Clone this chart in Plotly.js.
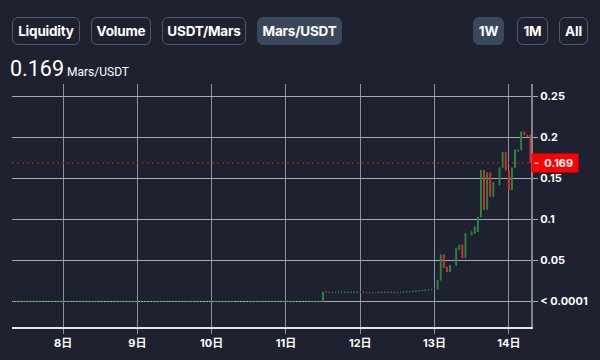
<!DOCTYPE html>
<html>
<head>
<meta charset="utf-8">
<script src="https://cdn.plot.ly/plotly-3.0.1.min.js"></script>
<style>
  html, body { margin:0; padding:0; background:#1e2130; }
  #wrap { position:relative; width:600px; height:360px; overflow:hidden; background:#1e2130; }
  #chart { position:absolute; left:0; top:0; width:600px; height:360px; }
  .btn { position:absolute; top:17px; height:28px; box-sizing:border-box; border:1px solid #4e596b;
         border-radius:6px; color:#ffffff; font-family:Inter, Roboto, sans-serif; font-weight:700; font-size:13.5px;
         display:flex; align-items:center; justify-content:center; letter-spacing:-0.2px; }
  .btn.on { background:#3b475a; border-color:#3b475a; }
  #price { position:absolute; left:10px; top:56px; color:#fff; font-family:Roboto, sans-serif; white-space:nowrap; }
  #price .big { font-size:21.5px; }
  #price .small { font-size:12px; margin-left:3px; }
</style>
</head>
<body>
<div id="wrap">
  <div id="chart"></div>
  <div class="btn" style="left:12px;width:68px;">Liquidity</div>
  <div class="btn" style="left:91px;width:60px;">Volume</div>
  <div class="btn" style="left:162px;width:84px;">USDT/Mars</div>
  <div class="btn on" style="left:257px;width:85px;">Mars/USDT</div>
  <div class="btn on" style="left:473px;width:31px;">1W</div>
  <div class="btn" style="left:517px;width:31px;">1M</div>
  <div class="btn" style="left:559px;width:29px;">All</div>
  <div id="price"><span class="big">0.169</span><span class="small">Mars/USDT</span></div>
</div>
<script>
// ---- data (hourly candles, starting 2021-05-07 07:00) ----
const startTime = Date.UTC(2021, 4, 7, 7, 0, 0);

const openPrices = [
  0.00005,0.00005,0.00005,0.00005,0.00005,0.00005,0.00005,0.00005,0.00005,0.00005,
  0.00005,0.00005,0.00005,0.00005,0.00005,0.00005,0.00005,0.00005,0.00005,0.00005,
  0.00005,0.00005,0.00005,0.00005,0.00005,0.00005,0.00005,0.00005,0.00005,0.00005,
  0.00005,0.00005,0.00005,0.00005,0.00005,0.00005,0.00005,0.00005,0.00005,0.00005,
  0.00005,0.00005,0.00005,0.00005,0.00005,0.00005,0.00005,0.00005,0.00005,0.00005,
  0.00005,0.00005,0.00005,0.00005,0.00005,0.00005,0.00005,0.00005,0.00005,0.00005,
  0.00005,0.00005,0.00005,0.00005,0.00005,0.00005,0.00005,0.00005,0.00005,0.00005,
  0.00005,0.00005,0.00005,0.00005,0.00005,0.00005,0.00005,0.00005,0.00005,0.00005,
  0.00005,0.00005,0.00005,0.00005,0.00005,0.00005,0.00005,0.00005,0.00005,0.00005,
  0.00005,0.00005,0.00005,0.00005,0.00005,0.00005,0.00005,0.00005,0.00005,0.00005,
  0.00005,
  0.00005,0.0116,0.0116,0.0110,0.0111,0.0112,0.0112,0.0113,0.0113,0.0113,
  0.0114,0.0114,0.0114,0.0115,0.0115,0.0109,0.0107,0.0109,0.0110,0.0111,
  0.0112,0.0112,0.0113,0.0114,0.0108,0.0110,0.0112,0.0115,0.0118,0.0121,
  0.0124,0.0128,0.0131,0.0135,0.0139,0.0143,
  0.0147,0.0149,0.026,0.057,0.042,0.036,null,0.044,0.063,0.069,
  0.053,null,0.081,0.083,0.085,0.103,0.160,0.112,0.157,0.128,
  null,0.142,0.163,0.182,
  0.160,0.136,0.163,0.183,0.185,0.207,0.203,0.203
];

const closePrices = [
  0.00005,0.00005,0.00005,0.00005,0.00005,0.00005,0.00005,0.00005,0.00005,0.00005,
  0.00005,0.00005,0.00005,0.00005,0.00005,0.00005,0.00005,0.00005,0.00005,0.00005,
  0.00005,0.00005,0.00005,0.00005,0.00005,0.00005,0.00005,0.00005,0.00005,0.00005,
  0.00005,0.00005,0.00005,0.00005,0.00005,0.00005,0.00005,0.00005,0.00005,0.00005,
  0.00005,0.00005,0.00005,0.00005,0.00005,0.00005,0.00005,0.00005,0.00005,0.00005,
  0.00005,0.00005,0.00005,0.00005,0.00005,0.00005,0.00005,0.00005,0.00005,0.00005,
  0.00005,0.00005,0.00005,0.00005,0.00005,0.00005,0.00005,0.00005,0.00005,0.00005,
  0.00005,0.00005,0.00005,0.00005,0.00005,0.00005,0.00005,0.00005,0.00005,0.00005,
  0.00005,0.00005,0.00005,0.00005,0.00005,0.00005,0.00005,0.00005,0.00005,0.00005,
  0.00005,0.00005,0.00005,0.00005,0.00005,0.00005,0.00005,0.00005,0.00005,0.00005,
  0.00005,
  0.0116,0.0116,0.0110,0.0111,0.0112,0.0112,0.0113,0.0113,0.0113,0.0114,
  0.0114,0.0114,0.0115,0.0115,0.0109,0.0107,0.0109,0.0110,0.0111,0.0112,
  0.0112,0.0113,0.0114,0.0108,0.0110,0.0112,0.0115,0.0118,0.0121,0.0124,
  0.0128,0.0131,0.0135,0.0139,0.0143,0.0147,
  0.0149,0.026,0.057,0.041,0.036,0.044,null,0.065,0.069,0.053,
  0.083,null,0.085,0.091,0.103,0.160,0.112,0.157,0.128,0.145,
  null,0.163,0.182,0.160,
  0.136,0.163,0.185,0.185,0.207,0.203,0.201,0.169
];

const currentPrice = 0.169;
const dayTicks = ['2021-05-08','2021-05-09','2021-05-10','2021-05-11','2021-05-12','2021-05-13','2021-05-14'];
const dayLabels = ['8日','9日','10日','11日','12日','13日','14日'];
const priceTicks = [0, 0.05, 0.1, 0.15, 0.2, 0.25];
const priceLabels = ['< 0.0001','0.05','0.1','0.15','0.2','0.25'];

// ---- build ----
function fmt(ms){
  const d = new Date(ms);
  const p = n => String(n).padStart(2,'0');
  return d.getUTCFullYear()+'-'+p(d.getUTCMonth()+1)+'-'+p(d.getUTCDate())+' '+p(d.getUTCHours())+':00';
}
const times = openPrices.map((_, i) => fmt(startTime + i*3600000));
const highs = openPrices.map((o, i) => (o === null ? null : Math.max(o, closePrices[i])));
const lows  = openPrices.map((o, i) => (o === null ? null : Math.min(o, closePrices[i])));

const GREEN = '#2a8a3e', RED = '#d63030';
const trace = {
  type:'candlestick', x:times, open:openPrices, high:highs, low:lows, close:closePrices,
  increasing:{line:{color:GREEN, width:1}, fillcolor:GREEN},
  decreasing:{line:{color:RED, width:1}, fillcolor:RED},
  whiskerwidth:0, hoverinfo:'skip', showlegend:false
};

const tickFont = {family:'Inter, "Noto Sans CJK SC", sans-serif', size:11, color:'#ffffff', weight:700};
const layout = {
  width:600, height:360,
  margin:{l:12, r:69, t:84, b:33},
  paper_bgcolor:'#1e2130', plot_bgcolor:'#1e2130',
  showlegend:false,
  boxgap:0.6,
  xaxis:{
    type:'date', range:['2021-05-07 07:30','2021-05-14 07:10'],
    rangeslider:{visible:false},
    tickvals:dayTicks, ticktext:dayLabels, tickfont:tickFont,
    showgrid:true, gridcolor:'#8e939c', gridwidth:1,
    ticks:'outside', ticklen:5, tickcolor:'#8e939c',
    showline:true, linecolor:'#e6e6e6', linewidth:1.5,
    zeroline:false, fixedrange:true
  },
  yaxis:{
    side:'right', range:[-0.0311, 0.2652],
    tickvals:priceTicks, ticktext:priceLabels, tickfont:tickFont,
    showgrid:true, gridcolor:'#a5a9b0', gridwidth:1,
    ticks:'outside', ticklen:5, tickcolor:'#a5a9b0',
    showline:true, linecolor:'#80858e', linewidth:2,
    zeroline:false, fixedrange:true
  },
  shapes:[{
    type:'line', xref:'paper', x0:0, x1:1, yref:'y', y0:currentPrice, y1:currentPrice,
    line:{color:'#a3201f', width:1.2, dash:'2px,3px'}
  }],
  annotations:[{
    xref:'paper', x:1, xanchor:'left', yref:'y', y:currentPrice, yanchor:'middle',
    text:'-&nbsp;&nbsp;' + currentPrice.toFixed(3), showarrow:false,
    font:{family:'Inter, sans-serif', size:11, color:'#ffffff', weight:700},
    bgcolor:'#ff0000', borderpad:2, width:42, height:14, align:'left', xshift:0
  }]
};
Plotly.newPlot('chart', [trace], layout, {staticPlot:true, displayModeBar:false});
</script>
</body>
</html>
